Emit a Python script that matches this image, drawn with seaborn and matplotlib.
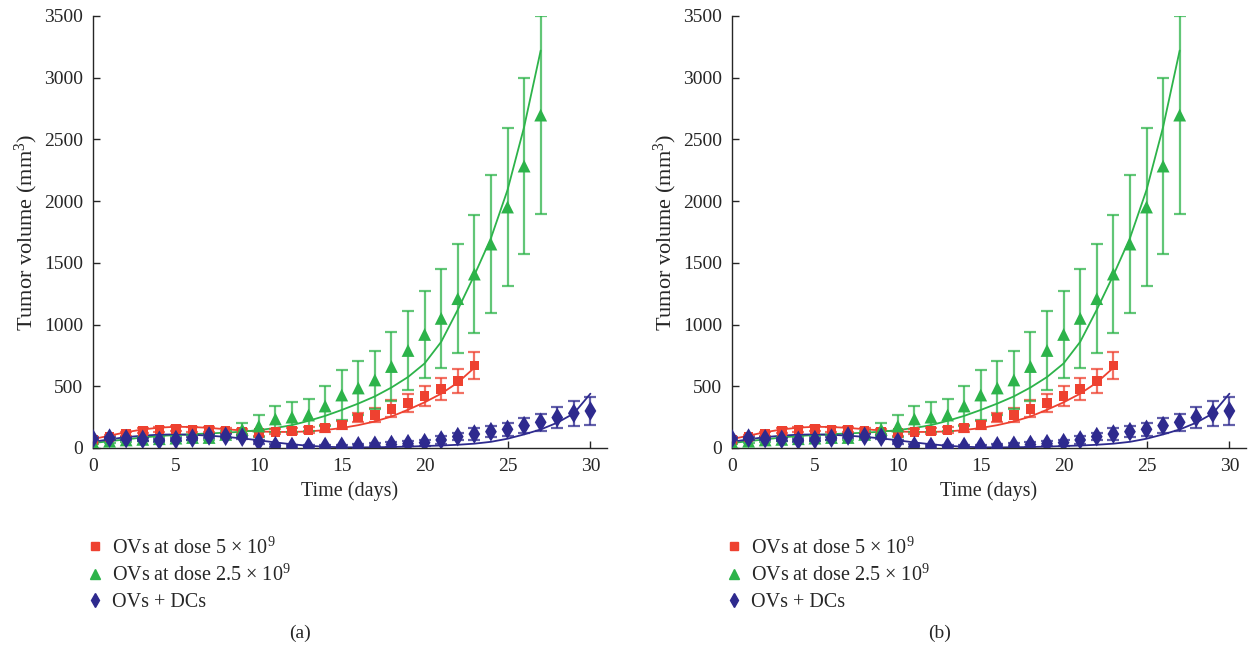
import matplotlib
matplotlib.use("Agg")
import matplotlib.pyplot as plt
import seaborn as sns
from matplotlib.lines import Line2D

days_red = list(range(0, 24))
red_mean = [65, 89, 113, 138, 150, 156, 150, 146, 138, 130, 119, 132, 138, 146,
            160, 186, 248, 267, 318, 365, 421, 478, 543, 668]
red_err = [15, 15, 18, 20, 20, 20, 20, 20, 20, 20, 22, 22, 25, 25,
           28, 32, 38, 57, 70, 70, 80, 90, 100, 110]

days_green = list(range(0, 28))
green_mean = [45, 55, 65, 70, 75, 80, 85, 85, 110, 150, 178, 235, 250, 267,
              340, 429, 486, 551, 660, 790, 920, 1050, 1210, 1409, 1652, 1952, 2284, 2697]
green_err = [15, 15, 15, 15, 15, 20, 20, 20, 30, 50, 90, 105, 120, 130,
             160, 200, 220, 235, 280, 320, 350, 400, 440, 480, 560, 640, 715, 800]

days_blue = list(range(0, 31))
blue_mean = [75, 80, 75, 70, 62, 68, 80, 97, 95, 88, 50, 18, 12, 11, 12, 14,
             18, 22, 28, 35, 43, 65, 92, 113, 132, 151, 181, 208, 246, 281, 300]
blue_err = [12, 12, 12, 12, 12, 12, 12, 15, 15, 15, 15, 12, 12, 12, 12, 12,
            15, 15, 18, 20, 25, 30, 30, 45, 45, 55, 60, 70, 85, 100, 110]

# fitted model curves (at whole days)
red_fit = [72, 100, 128, 150, 165, 172, 170, 163, 152, 142, 134, 130, 130, 134,
           145, 162, 185, 215, 255, 310, 370, 440, 530, 650]
green_fit = [40, 55, 70, 85, 97, 105, 112, 118, 124, 132, 145, 162, 185, 220,
             260, 308, 360, 418, 490, 575, 685, 860, 1120, 1400, 1700, 2090, 2600, 3220]
blue_fit = [50, 70, 88, 100, 108, 110, 107, 100, 90, 78, 62, 45, 30, 18, 10, 6,
            5, 6, 8, 11, 16, 20, 26, 35, 50, 75, 110, 150, 205, 280, 440]

labels = [r"OVs at dose 5 $\times$ 10$^{9}$",
          r"OVs at dose 2.5 $\times$ 10$^{9}$",
          "OVs + DCs"]
c_red, c_green, c_blue = "#EE4130", "#2DB34A", "#2E2A8E"

sns.set_style("ticks")
plt.rcParams['font.family'] = ['Liberation Serif', 'DejaVu Serif']
plt.rcParams['mathtext.fontset'] = 'custom'
plt.rcParams['mathtext.rm'] = 'Liberation Serif'
plt.rcParams['mathtext.it'] = 'Liberation Serif:italic'

fig = plt.figure(figsize=(12.5, 6.52), dpi=100)
ax1 = fig.add_axes([0.0744, 0.3129, 0.4112, 0.6626])
ax2 = fig.add_axes([0.5856, 0.3129, 0.4112, 0.6626])

series = [
    (days_red, red_mean, red_err, red_fit, c_red, "s", 48),
    (days_green, green_mean, green_err, green_fit, c_green, "^", 85),
    (days_blue, blue_mean, blue_err, blue_fit, c_blue, "d", 100),
]


def draw_panel(ax):
    for d, m, e, f, col, mk, s in series:
        sns.lineplot(x=d, y=f, color=col, lw=1.3, ax=ax, zorder=2)
        ax.errorbar(d, m, yerr=e, fmt="none", ecolor=col, alpha=0.75,
                    capsize=4.5, elinewidth=1.6, capthick=1.6, zorder=3)
        sns.scatterplot(x=d, y=m, color=col, marker=mk, s=s, edgecolor="none",
                        ax=ax, zorder=4, legend=False)
    ax.set_xlim(0, 31)
    ax.set_ylim(0, 3500)
    ax.set_xticks([0, 5, 10, 15, 20, 25, 30])
    ax.set_yticks(range(0, 3501, 500))
    ax.tick_params(direction="in", length=5, width=1, labelsize=14, pad=7)
    ax.set_xlabel("Time (days)", fontsize=14.5, labelpad=5)
    ax.set_ylabel("Tumor volume (mm$^{3}$)", fontsize=16, labelpad=3)
    for sp in ["left", "bottom"]:
        ax.spines[sp].set_linewidth(1.0)
    sns.despine(ax=ax)


draw_panel(ax1)
draw_panel(ax2)

handles = [
    Line2D([], [], marker="s", color=c_red, ls="none", markersize=5.5),
    Line2D([], [], marker="^", color=c_green, ls="none", markersize=7),
    Line2D([], [], marker="d", color=c_blue, ls="none", markersize=7.5),
]
for xpos in [0.068, 0.579]:
    fig.legend(handles, labels, loc="upper left", bbox_to_anchor=(xpos, 0.176),
               frameon=False, fontsize=14.5, handlelength=1.0, handletextpad=0.35,
               labelspacing=0.32, borderpad=0, borderaxespad=0)

fig.text(0.24, 0.029, "(a)", fontsize=14, ha="center", va="center")
fig.text(0.752, 0.029, "(b)", fontsize=14, ha="center", va="center")

fig.savefig("out.png", dpi=100)
